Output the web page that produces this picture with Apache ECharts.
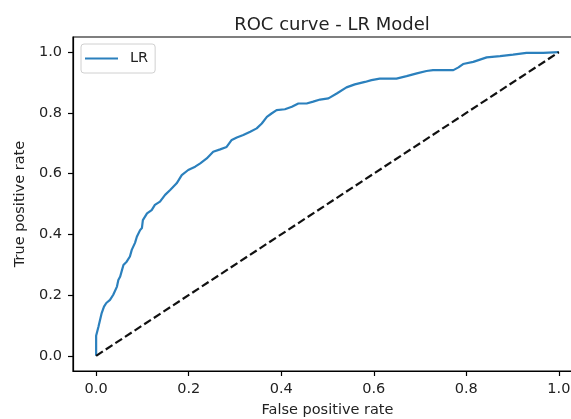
<!DOCTYPE html>
<html>
<head>
<meta charset="utf-8">
<script src="https://cdn.jsdelivr.net/npm/echarts@6/dist/echarts.min.js"></script>
<style>html,body{margin:0;padding:0;background:#fff;}#c{width:571px;height:419px;}</style>
</head>
<body>
<div id="c"></div>
<script>
const fpr = [0,0,0.005,0.012,0.017,0.022,0.030,0.037,0.045,0.048,0.052,0.056,0.059,0.066,0.073,0.077,0.084,0.088,0.095,0.099,0.101,0.110,0.120,0.127,0.138,0.149,0.160,0.174,0.185,0.199,0.214,0.225,0.239,0.253,0.268,0.282,0.293,0.304,0.318,0.333,0.347,0.358,0.369,0.379,0.390,0.408,0.423,0.437,0.455,0.469,0.484,0.502,0.520,0.541,0.559,0.581,0.595,0.613,0.649,0.671,0.693,0.714,0.728,0.772,0.783,0.793,0.815,0.844,0.873,0.901,0.930,0.966,1];
const tpr = [0,0.066,0.096,0.141,0.162,0.174,0.184,0.201,0.228,0.250,0.261,0.283,0.299,0.310,0.327,0.349,0.372,0.392,0.414,0.421,0.447,0.469,0.480,0.497,0.508,0.530,0.546,0.568,0.595,0.612,0.623,0.634,0.650,0.672,0.680,0.688,0.711,0.719,0.727,0.738,0.749,0.765,0.787,0.798,0.809,0.812,0.820,0.831,0.831,0.837,0.844,0.848,0.864,0.884,0.894,0.902,0.908,0.913,0.913,0.921,0.930,0.938,0.941,0.941,0.950,0.961,0.968,0.983,0.987,0.992,0.998,0.998,1];
const diagX = [0,1];
const diagY = [0,1];
const ticks = [0,0.2,0.4,0.6,0.8,1.0];
const titleText = 'ROC curve - LR Model';
const xName = 'False positive rate';
const yName = 'True positive rate';
const seriesName = 'LR';

const font = 'DejaVu Sans';
const chart = echarts.init(document.getElementById('c'), null, {renderer:'canvas'});
const roc = fpr.map((x,i)=>[x,tpr[i]]);
const diag = diagX.map((x,i)=>[x,diagY[i]]);
const axisCommon = {
  type:'value', min:-0.05, max:1.05,
  axisLine:{show:true, onZero:false, lineStyle:{color:'#000', width:1.2}},
  axisTick:{show:true, customValues:ticks, length:5, lineStyle:{color:'#000', width:1.2}},
  axisLabel:{customValues:ticks, formatter:v=>v.toFixed(1), color:'#222', fontFamily:font, fontSize:14.5, margin:11},
  splitLine:{show:false},
  nameLocation:'middle',
  nameTextStyle:{color:'#222', fontFamily:font, fontSize:14.5}
};
chart.setOption({
  animation:false,
  backgroundColor:'#fff',
  title:{text:titleText, left:327, textAlign:'center', top:11,
    textStyle:{fontFamily:font, fontSize:18, fontWeight:'normal', color:'#222'}},
  grid:{left:73, top:37, width:509, height:334, containLabel:false, outerBoundsMode:'none',
    show:true, borderColor:'#000', borderWidth:1.2, backgroundColor:'transparent'},
  legend:{data:[{name:seriesName, icon:'rect'}], left:81, top:44, orient:'vertical',
    padding:[7,7,7,4], itemWidth:33, itemHeight:2.2,
    borderColor:'#d0d0d0', borderWidth:1, borderRadius:3, backgroundColor:'rgba(255,255,255,0.8)',
    itemStyle:{color:'#2b80bd'},
    textStyle:{fontFamily:font, fontSize:14.5, color:'#222', padding:[0,0,0,7]}},
  xAxis:Object.assign({}, axisCommon, {name:xName, nameGap:32}),
  yAxis:Object.assign({}, axisCommon, {name:yName, nameGap:43}),
  series:[
    {name:seriesName, type:'line', data:roc, symbol:'none', lineStyle:{color:'#2b80bd', width:2.2}, itemStyle:{color:'#2b80bd'}, z:3},
    {name:'diag', type:'line', data:diag, symbol:'none', lineStyle:{color:'#111', width:2.2, type:[8,3.5]}, z:4}
  ]
});
</script>
</body>
</html>
